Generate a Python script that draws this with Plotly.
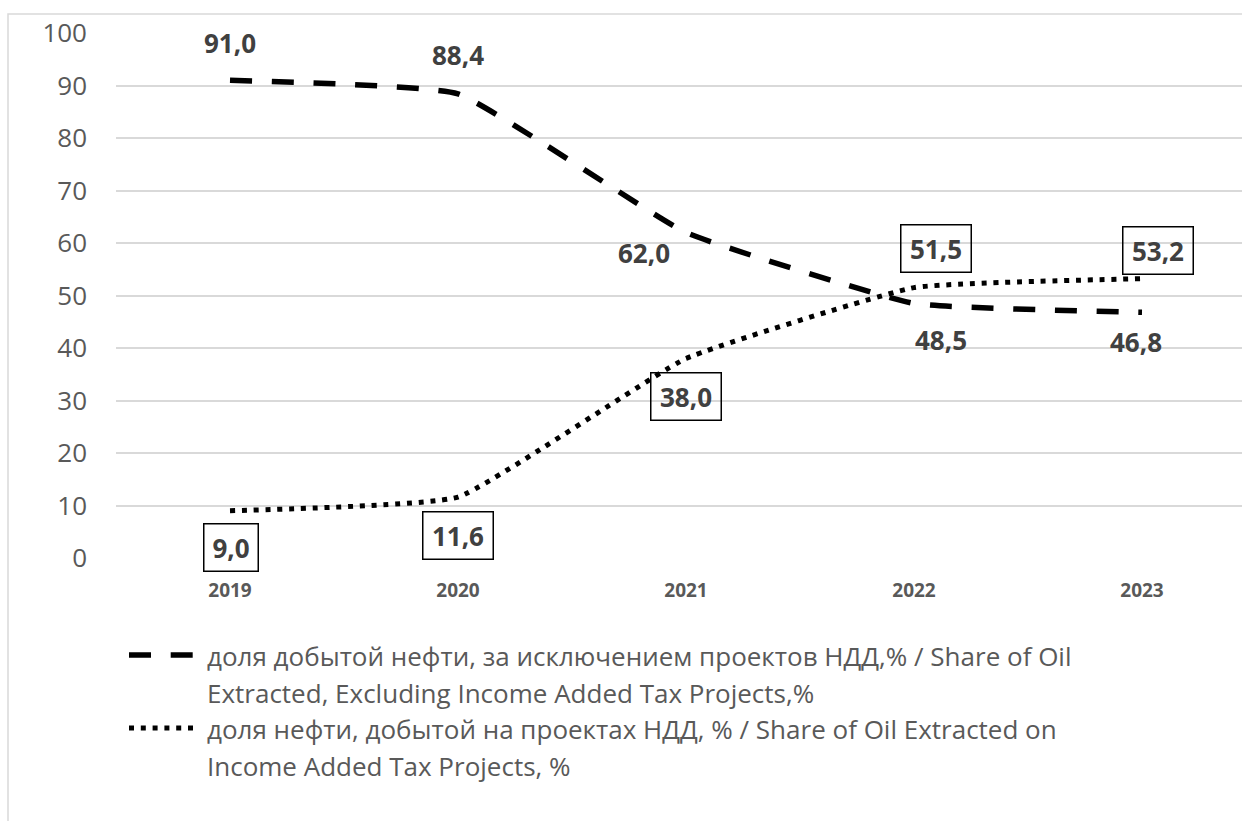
import plotly.graph_objects as go

# Categories and series values
years = ["2019", "2020", "2021", "2022", "2023"]
share_excl_ndd = [91.0, 88.4, 62.0, 48.5, 46.8]
share_ndd = [9.0, 11.6, 38.0, 51.5, 53.2]
y_ticks = [0, 10, 20, 30, 40, 50, 60, 70, 80, 90, 100]

name_excl = ("доля добытой нефти, за исключением проектов НДД,% / Share of Oil",
             "Extracted, Excluding Income Added Tax Projects,%")
name_ndd = ("доля нефти, добытой на проектах НДД, % / Share of Oil Extracted on",
            "Income Added Tax Projects, %")

W, H = 1242, 821
L, R, T, B = 116, 1242, 33, 558  # plot area in pixels

FONT = "Open Sans"
GRID = "#d9d9d9"
TXT = "#595959"
LBL = "#404040"

DASH = "22px,19.7px"
DOT = "5px,6.8px"
SMOOTH = 0.35


def px(x):
    return (x - L) / (R - L)


def py(y):
    return (B - y) / (B - T)


def fmt(v):
    return f"{v:.1f}".replace(".", ",")


fig = go.Figure()
fig.add_trace(go.Scatter(
    x=list(range(len(years))), y=share_excl_ndd, mode="lines",
    line=dict(color="black", width=5.5, dash=DASH, shape="spline", smoothing=SMOOTH),
    hoverinfo="skip", showlegend=False,
))
fig.add_trace(go.Scatter(
    x=list(range(len(years))), y=share_ndd, mode="lines",
    line=dict(color="black", width=5, dash=DOT, shape="spline", smoothing=SMOOTH),
    hoverinfo="skip", showlegend=False,
))

annotations = []
# label offsets (x, y) in pixels for each point
off_excl = [(0, 37), (0, 39), (-42, -20), (27, -37), (-6, -30)]
off_ndd = [(1, -37), (0, -38), (0, -38), (22, 39), (16, 28)]

for i, v in enumerate(share_excl_ndd):
    dx, dy = off_excl[i]
    annotations.append(dict(
        x=i, y=v, xref="x", yref="y", text=f"<b>{fmt(v)}</b>", showarrow=False,
        xshift=dx, yshift=dy, font=dict(family=FONT, size=26, color=LBL),
    ))

for i, v in enumerate(share_ndd):
    dx, dy = off_ndd[i]
    t = fmt(v)
    annotations.append(dict(
        x=i, y=v, xref="x", yref="y", text=f"<b>{t}</b>", showarrow=False,
        xshift=dx, yshift=dy, font=dict(family=FONT, size=26, color=LBL),
        bordercolor="black", borderwidth=1.5, borderpad=3,
        width=16 * len(t) + 9 - 10, height=40,
    ))

# legend text, two lines per entry
legend_lines = [(name_excl[0], 656), (name_excl[1], 693), (name_ndd[0], 729), (name_ndd[1], 766)]
for text, yy in legend_lines:
    annotations.append(dict(
        x=px(205), y=py(yy), xref="paper", yref="paper", text=text, showarrow=False,
        xanchor="left", yanchor="middle", font=dict(family=FONT, size=26, color=TXT),
    ))

shapes = [
    # chart frame
    dict(type="rect", xref="paper", yref="paper", x0=px(8), x1=px(1260), y0=py(900), y1=py(14),
         line=dict(color=GRID, width=1.5), layer="below"),
    # legend keys
    dict(type="line", xref="paper", yref="paper", x0=px(129), x1=px(193), y0=py(655), y1=py(655),
         line=dict(color="black", width=5.5, dash=DASH)),
    dict(type="line", xref="paper", yref="paper", x0=px(129), x1=px(193), y0=py(728), y1=py(728),
         line=dict(color="black", width=5, dash=DOT)),
]

fig.update_layout(
    width=W, height=H,
    margin=dict(l=L, r=W - R, t=T, b=H - B, pad=0),
    paper_bgcolor="white", plot_bgcolor="white",
    showlegend=False,
    annotations=annotations,
    shapes=shapes,
    xaxis=dict(
        range=[-0.5, (R - 230) / 228], tickmode="array",
        tickvals=list(range(len(years))), ticktext=[f"<b>{y}</b>" for y in years],
        tickfont=dict(family=FONT, size=19, color=TXT),
        showgrid=False, zeroline=False, showline=False, ticks="", ticklabelstandoff=19,
        fixedrange=True,
    ),
    yaxis=dict(
        range=[0, 100], tickmode="array", tickvals=y_ticks,
        tickfont=dict(family=FONT, size=26, color=TXT),
        showgrid=True, gridcolor=GRID, gridwidth=1.5, zeroline=False, showline=False,
        ticks="", ticklabelstandoff=28, fixedrange=True,
    ),
)

fig.write_html("out.html")
